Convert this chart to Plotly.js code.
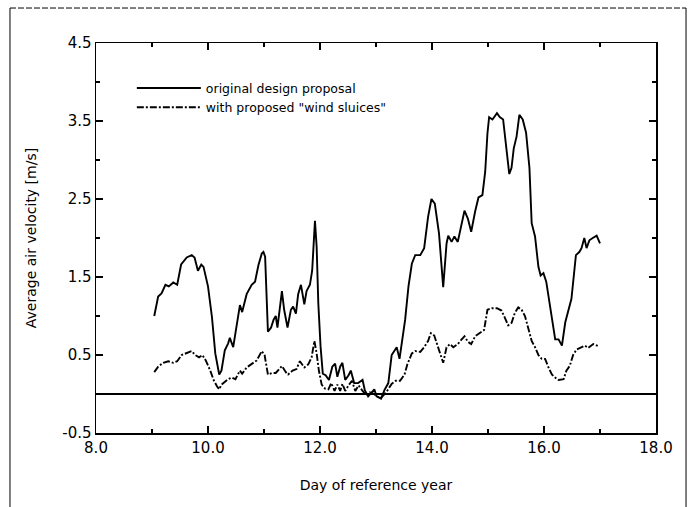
<!DOCTYPE html>
<html>
<head>
<meta charset="utf-8">
<script src="https://cdn.plot.ly/plotly-3.0.1.min.js"></script>
<style>
  html, body { margin: 0; padding: 0; background: #fff; }
  #chart { width: 696px; height: 507px; }
</style>
</head>
<body>
<div id="chart"></div>
<script>
// Series 1: original design proposal
var daysOriginal = [
  9.04, 9.11, 9.17, 9.24, 9.30, 9.38, 9.45, 9.52, 9.62, 9.71, 9.76, 9.82, 9.88, 9.92,
  10.00, 10.07, 10.13, 10.20, 10.24, 10.30, 10.36, 10.39, 10.45, 10.51, 10.57, 10.61, 10.69, 10.78, 10.84, 10.90, 10.96, 10.99,
  11.02, 11.07, 11.125, 11.17, 11.21, 11.24, 11.32, 11.36, 11.42, 11.48, 11.52, 11.57, 11.61, 11.66, 11.72, 11.76, 11.82, 11.86, 11.91, 11.94, 11.97,
  12.01, 12.05, 12.10, 12.16, 12.22, 12.27, 12.31, 12.36, 12.40, 12.45, 12.51, 12.55, 12.61, 12.68, 12.76, 12.80, 12.86, 12.92, 12.97,
  13.01, 13.09, 13.15, 13.22, 13.28, 13.37, 13.42, 13.47, 13.52, 13.58, 13.64, 13.70, 13.79, 13.86, 13.93, 13.99,
  14.05, 14.125, 14.20, 14.26, 14.29, 14.35, 14.40, 14.46, 14.52, 14.58, 14.64, 14.70, 14.77, 14.83, 14.90, 14.95, 14.99,
  15.02, 15.08, 15.16, 15.21, 15.27, 15.32, 15.38, 15.42, 15.46, 15.51, 15.56, 15.62, 15.68, 15.74, 15.78, 15.84, 15.90, 15.94, 15.99,
  16.04, 16.10, 16.16, 16.20, 16.26, 16.32, 16.38, 16.43, 16.49, 16.57, 16.63, 16.67, 16.72, 16.76, 16.81, 16.87, 16.94, 17.00
];
var velOriginal = [
  1.00, 1.25, 1.29, 1.40, 1.38, 1.43, 1.40, 1.66, 1.75, 1.78, 1.75, 1.58, 1.66, 1.63,
  1.38, 0.99, 0.52, 0.25, 0.30, 0.56, 0.65, 0.72, 0.60, 0.86, 1.14, 1.05, 1.28, 1.40, 1.44, 1.65, 1.80, 1.82,
  1.76, 0.80, 0.85, 0.95, 1.00, 0.85, 1.32, 1.08, 0.85, 1.08, 1.12, 1.03, 1.28, 1.40, 1.15, 1.32, 1.40, 1.58, 2.22, 1.89, 1.16,
  0.61, 0.26, 0.24, 0.18, 0.35, 0.39, 0.22, 0.35, 0.40, 0.18, 0.24, 0.30, 0.14, 0.14, 0.18, 0.05, -0.03, 0.02, 0.06,
  -0.03, -0.06, 0.05, 0.14, 0.50, 0.60, 0.45, 0.72, 0.95, 1.38, 1.67, 1.78, 1.78, 1.87, 2.27, 2.50,
  2.44, 2.06, 1.37, 1.93, 2.03, 1.95, 2.02, 1.95, 2.17, 2.35, 2.25, 2.08, 2.34, 2.52, 2.55, 2.85, 3.34,
  3.55, 3.52, 3.60, 3.55, 3.52, 3.20, 2.82, 2.90, 3.15, 3.30, 3.58, 3.52, 3.35, 2.90, 2.19, 2.02, 1.63, 1.52, 1.55,
  1.44, 1.16, 0.86, 0.70, 0.70, 0.62, 0.92, 1.05, 1.22, 1.78, 1.82, 1.87, 2.00, 1.87, 1.97, 2.00, 2.03, 1.93
];

// Series 2: with proposed "wind sluices"
var daysSluice = [
  9.04, 9.11, 9.20, 9.29, 9.38, 9.45, 9.53, 9.62, 9.71, 9.77, 9.84, 9.90, 9.96,
  10.04, 10.10, 10.16, 10.20, 10.24, 10.30, 10.36, 10.43, 10.49, 10.57, 10.61, 10.69, 10.78, 10.87, 10.96,
  11.01, 11.07, 11.14, 11.21, 11.27, 11.32, 11.39, 11.43, 11.51, 11.58, 11.64, 11.72, 11.79, 11.85, 11.90, 11.94, 11.98,
  12.03, 12.09, 12.15, 12.20, 12.26, 12.31, 12.36, 12.40, 12.45, 12.51, 12.57, 12.63, 12.69, 12.76, 12.83, 12.89, 12.97,
  13.01, 13.09, 13.19, 13.28, 13.35, 13.43, 13.51, 13.56, 13.64, 13.70, 13.79, 13.86, 13.93, 13.98,
  14.04, 14.10, 14.16, 14.20, 14.26, 14.32, 14.38, 14.46, 14.53, 14.58, 14.64, 14.70, 14.77, 14.86, 14.93, 14.99,
  15.07, 15.16, 15.24, 15.30, 15.36, 15.42, 15.48, 15.54, 15.60, 15.66, 15.72, 15.78, 15.84, 15.90, 15.96,
  16.02, 16.08, 16.14, 16.20, 16.26, 16.35, 16.40, 16.46, 16.52, 16.58, 16.67, 16.73, 16.79, 16.88, 16.98
];
var velSluice = [
  0.28, 0.35, 0.40, 0.42, 0.40, 0.42, 0.50, 0.53, 0.55, 0.50, 0.47, 0.50, 0.43,
  0.30, 0.18, 0.10, 0.06, 0.12, 0.15, 0.19, 0.21, 0.19, 0.30, 0.26, 0.34, 0.38, 0.43, 0.55,
  0.50, 0.25, 0.27, 0.27, 0.32, 0.36, 0.28, 0.25, 0.30, 0.32, 0.42, 0.34, 0.38, 0.47, 0.68, 0.52, 0.30,
  0.12, 0.07, 0.06, 0.14, 0.04, 0.12, 0.04, 0.13, 0.04, 0.11, 0.17, 0.04, 0.11, 0.04, -0.02, 0.02, 0.00,
  -0.03, -0.05, 0.03, 0.13, 0.17, 0.17, 0.25, 0.38, 0.52, 0.55, 0.54, 0.60, 0.68, 0.78,
  0.75, 0.62, 0.50, 0.40, 0.60, 0.64, 0.60, 0.64, 0.70, 0.74, 0.67, 0.64, 0.74, 0.78, 0.82, 1.08,
  1.10, 1.10, 1.07, 0.98, 0.88, 0.91, 1.04, 1.11, 1.08, 1.00, 0.82, 0.68, 0.60, 0.50, 0.45,
  0.45, 0.34, 0.25, 0.21, 0.18, 0.19, 0.30, 0.36, 0.50, 0.57, 0.60, 0.62, 0.59, 0.64, 0.61
];

var seriesNames = ['original design proposal', 'with proposed "wind sluices"'];
var xTickVals = [8, 10, 12, 14, 16, 18];
var xTickText = ['8.0', '10.0', '12.0', '14.0', '16.0', '18.0'];
var yTickVals = [-0.5, 0.5, 1.5, 2.5, 3.5, 4.5];
var yTickText = ['-0.5', '0.5', '1.5', '2.5', '3.5', '4.5'];

var FONT = 'DejaVu Sans, Liberation Sans, sans-serif';

var traces = [
  {
    x: daysOriginal, y: velOriginal, name: seriesNames[0],
    type: 'scatter', mode: 'lines',
    line: { color: '#000', width: 1.9, dash: 'solid' }
  },
  {
    x: daysSluice, y: velSluice, name: seriesNames[1],
    type: 'scatter', mode: 'lines',
    line: { color: '#000', width: 1.9, dash: '7px,2px,2px,2px' }
  }
];

var layout = {
  width: 696, height: 507,
  margin: { l: 96, r: 40, t: 43, b: 74, pad: 0 },
  paper_bgcolor: '#fff', plot_bgcolor: '#fff',
  font: { family: FONT, size: 14, color: '#000' },
  showlegend: true,
  legend: {
    x: 0.064, y: 0.922, xanchor: 'left', yanchor: 'top',
    bgcolor: 'rgba(0,0,0,0)', borderwidth: 0,
    itemwidth: 64,
    font: { family: FONT, size: 12.5, color: '#000' },
    tracegroupgap: 0
  },
  xaxis: {
    range: [8, 18], autorange: false,
    tickmode: 'array', tickvals: xTickVals, ticktext: xTickText,
    ticks: 'inside', ticklen: 7, tickwidth: 1.3, tickcolor: '#000',
    minor: { dtick: 1, tick0: 8, ticks: 'inside', ticklen: 4, tickwidth: 1.2, tickcolor: '#000', showgrid: false },
    showline: true, linecolor: '#000', linewidth: 1.5, mirror: 'ticks',
    showgrid: false, zeroline: false,
    tickfont: { family: FONT, size: 15, color: '#000' },
    title: { text: 'Day of reference year', font: { family: FONT, size: 14, color: '#000' }, standoff: 24 }
  },
  yaxis: {
    range: [-0.5, 4.5], autorange: false,
    tickmode: 'array', tickvals: yTickVals, ticktext: yTickText,
    ticks: 'inside', ticklen: 7, tickwidth: 1.3, tickcolor: '#000',
    minor: { dtick: 1, tick0: 0, ticks: 'inside', ticklen: 4, tickwidth: 1.2, tickcolor: '#000', showgrid: false },
    showline: true, linecolor: '#000', linewidth: 1.5, mirror: 'ticks',
    showgrid: false,
    zeroline: true, zerolinecolor: '#000', zerolinewidth: 2,
    tickfont: { family: FONT, size: 15, color: '#000' },
    title: { text: 'Average air velocity [m/s]', font: { family: FONT, size: 14, color: '#000' }, standoff: 22 }
  },
  shapes: [
    { type: 'line', xref: 'paper', yref: 'paper', x0: -0.1536, x1: -0.1536, y0: 1.0897, y1: -0.2, line: { color: '#000', width: 1 } },
    { type: 'line', xref: 'paper', yref: 'paper', x0: 1.0536, x1: 1.0536, y0: 1.0897, y1: -0.2, line: { color: '#000', width: 1 } },
    { type: 'line', xref: 'paper', yref: 'paper', x0: -0.1536, x1: 1.0536, y0: 1.0897, y1: 1.0897, line: { color: '#000', width: 1, dash: '6px,2px' } }
  ]
};

Plotly.newPlot('chart', traces, layout, { staticPlot: true, displayModeBar: false });
</script>
</body>
</html>
